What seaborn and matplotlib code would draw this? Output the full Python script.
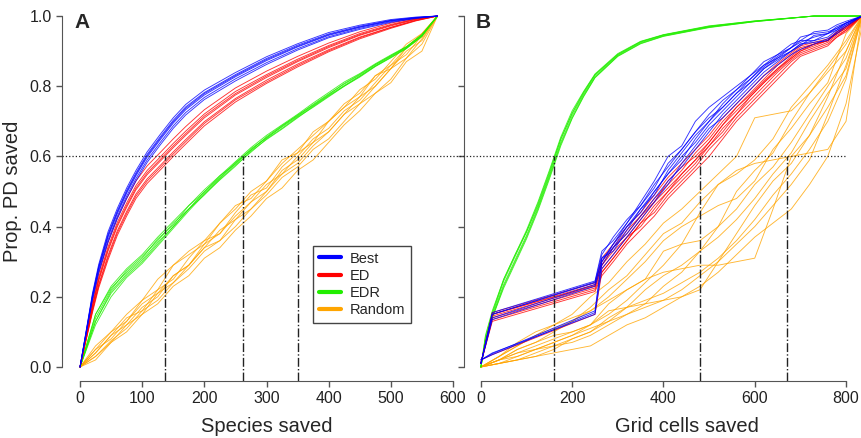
import numpy as np
import pandas as pd
import seaborn as sns
import matplotlib.pyplot as plt
from matplotlib.lines import Line2D

# ---------------- data ----------------
methods = ["Best", "ED", "EDR", "Random"]
colors = {"Best": "#0000ff", "ED": "#ff0000", "EDR": "#22ee00", "Random": "#ffa500"}

# panel A: species saved
a_x = [0, 10, 20, 30, 45, 60, 75, 90, 108, 130, 150, 170, 200, 250, 300, 350, 400, 450, 500, 540, 575]
a_best = [
    [0, 0.105, 0.21, 0.292, 0.385, 0.452, 0.51, 0.56, 0.613, 0.665, 0.71, 0.748, 0.789, 0.839, 0.884, 0.921, 0.953, 0.974, 0.99, 0.997, 1.0],
    [0, 0.102, 0.205, 0.286, 0.378, 0.445, 0.503, 0.553, 0.606, 0.658, 0.703, 0.741, 0.782, 0.833, 0.879, 0.917, 0.949, 0.971, 0.988, 0.996, 1.0],
    [0, 0.10, 0.20, 0.28, 0.37, 0.437, 0.495, 0.545, 0.598, 0.65, 0.695, 0.733, 0.775, 0.827, 0.873, 0.912, 0.945, 0.968, 0.986, 0.995, 1.0],
    [0, 0.098, 0.195, 0.274, 0.362, 0.429, 0.487, 0.537, 0.59, 0.642, 0.687, 0.725, 0.768, 0.821, 0.867, 0.907, 0.941, 0.965, 0.984, 0.994, 1.0],
    [0, 0.095, 0.191, 0.268, 0.355, 0.422, 0.48, 0.53, 0.583, 0.635, 0.68, 0.718, 0.762, 0.815, 0.862, 0.903, 0.938, 0.962, 0.982, 0.993, 1.0],
    [0, 0.101, 0.202, 0.283, 0.374, 0.441, 0.499, 0.549, 0.602, 0.654, 0.699, 0.737, 0.779, 0.83, 0.876, 0.914, 0.947, 0.969, 0.987, 0.995, 1.0],
]
a_ed = [
    [0, 0.093, 0.185, 0.265, 0.355, 0.425, 0.48, 0.53, 0.573, 0.613, 0.65, 0.685, 0.733, 0.795, 0.843, 0.885, 0.923, 0.955, 0.98, 0.994, 1.0],
    [0, 0.089, 0.177, 0.255, 0.342, 0.412, 0.467, 0.517, 0.56, 0.60, 0.637, 0.672, 0.721, 0.785, 0.833, 0.877, 0.916, 0.95, 0.976, 0.992, 1.0],
    [0, 0.085, 0.17, 0.245, 0.33, 0.40, 0.455, 0.505, 0.548, 0.588, 0.625, 0.66, 0.71, 0.775, 0.825, 0.87, 0.91, 0.945, 0.972, 0.99, 1.0],
    [0, 0.081, 0.163, 0.235, 0.318, 0.388, 0.443, 0.493, 0.536, 0.576, 0.613, 0.648, 0.699, 0.765, 0.817, 0.863, 0.904, 0.94, 0.968, 0.988, 1.0],
    [0, 0.078, 0.155, 0.225, 0.305, 0.375, 0.43, 0.48, 0.523, 0.563, 0.60, 0.635, 0.687, 0.755, 0.808, 0.855, 0.898, 0.935, 0.965, 0.986, 1.0],
    [0, 0.087, 0.173, 0.249, 0.335, 0.405, 0.46, 0.51, 0.553, 0.593, 0.63, 0.665, 0.715, 0.779, 0.829, 0.873, 0.913, 0.947, 0.974, 0.991, 1.0],
    [0, 0.08, 0.16, 0.231, 0.312, 0.382, 0.437, 0.487, 0.53, 0.57, 0.607, 0.642, 0.694, 0.761, 0.812, 0.859, 0.901, 0.938, 0.967, 0.987, 1.0],
]
a_x2 = [0, 25, 50, 75, 100, 125, 150, 175, 200, 225, 250, 275, 300, 325, 350, 375, 400, 425, 450, 475, 500, 525, 550, 575]
a_edr = [
    [0, 0.15, 0.23, 0.28, 0.32, 0.37, 0.415, 0.46, 0.505, 0.545, 0.585, 0.625, 0.66, 0.69, 0.72, 0.752, 0.782, 0.812, 0.836, 0.864, 0.889, 0.913, 0.947, 1.0],
    [0, 0.13, 0.21, 0.26, 0.30, 0.35, 0.40, 0.45, 0.49, 0.535, 0.575, 0.612, 0.65, 0.68, 0.712, 0.74, 0.77, 0.80, 0.828, 0.857, 0.882, 0.908, 0.943, 1.0],
    [0, 0.14, 0.22, 0.275, 0.315, 0.36, 0.41, 0.45, 0.50, 0.54, 0.583, 0.618, 0.656, 0.688, 0.716, 0.748, 0.778, 0.806, 0.832, 0.861, 0.886, 0.911, 0.946, 1.0],
    [0, 0.12, 0.20, 0.255, 0.295, 0.345, 0.395, 0.445, 0.492, 0.533, 0.572, 0.615, 0.648, 0.678, 0.71, 0.742, 0.772, 0.80, 0.826, 0.856, 0.881, 0.907, 0.942, 1.0],
    [0, 0.15, 0.225, 0.27, 0.31, 0.365, 0.405, 0.46, 0.498, 0.545, 0.578, 0.622, 0.652, 0.686, 0.718, 0.746, 0.776, 0.808, 0.834, 0.862, 0.887, 0.912, 0.946, 1.0],
    [0, 0.13, 0.215, 0.265, 0.305, 0.355, 0.40, 0.45, 0.495, 0.538, 0.58, 0.618, 0.654, 0.684, 0.714, 0.744, 0.774, 0.802, 0.829, 0.858, 0.884, 0.909, 0.944, 1.0],
]
a_random = [
    [0, 0.03, 0.07, 0.12, 0.15, 0.21, 0.24, 0.29, 0.34, 0.36, 0.42, 0.45, 0.50, 0.55, 0.58, 0.63, 0.67, 0.72, 0.75, 0.80, 0.85, 0.88, 0.935, 1.0],
    [0, 0.05, 0.10, 0.13, 0.19, 0.22, 0.29, 0.32, 0.35, 0.41, 0.46, 0.48, 0.53, 0.59, 0.61, 0.67, 0.70, 0.74, 0.79, 0.82, 0.87, 0.92, 0.95, 1.0],
    [0, 0.04, 0.09, 0.14, 0.16, 0.22, 0.25, 0.31, 0.36, 0.38, 0.44, 0.49, 0.51, 0.57, 0.61, 0.64, 0.70, 0.74, 0.77, 0.83, 0.85, 0.91, 0.94, 1.0],
    [0, 0.03, 0.075, 0.11, 0.16, 0.19, 0.24, 0.28, 0.33, 0.36, 0.40, 0.45, 0.49, 0.54, 0.57, 0.62, 0.65, 0.70, 0.75, 0.78, 0.82, 0.88, 0.92, 1.0],
    [0, 0.05, 0.08, 0.13, 0.18, 0.21, 0.26, 0.29, 0.35, 0.38, 0.43, 0.47, 0.52, 0.55, 0.60, 0.65, 0.68, 0.73, 0.76, 0.81, 0.86, 0.89, 0.945, 1.0],
    [0, 0.06, 0.10, 0.15, 0.19, 0.25, 0.29, 0.33, 0.36, 0.41, 0.45, 0.50, 0.53, 0.58, 0.62, 0.66, 0.70, 0.75, 0.78, 0.83, 0.86, 0.91, 0.95, 1.0],
    [0, 0.02, 0.07, 0.10, 0.15, 0.18, 0.23, 0.26, 0.31, 0.34, 0.39, 0.43, 0.48, 0.51, 0.56, 0.59, 0.64, 0.69, 0.73, 0.78, 0.81, 0.87, 0.90, 1.0],
    [0, 0.04, 0.09, 0.12, 0.17, 0.20, 0.26, 0.29, 0.34, 0.39, 0.42, 0.47, 0.50, 0.56, 0.59, 0.64, 0.67, 0.72, 0.77, 0.80, 0.85, 0.90, 0.93, 1.0],
]

# panel B: grid cells saved
b_x = [0, 25, 250, 265, 290, 320, 350, 380, 410, 440, 470, 500, 530, 560, 590, 620, 650, 680, 700, 730, 760, 780, 800, 835]
b_best = [
    [0.01, 0.155, 0.245, 0.33, 0.36, 0.41, 0.47, 0.53, 0.60, 0.63, 0.70, 0.74, 0.77, 0.80, 0.83, 0.87, 0.89, 0.91, 0.93, 0.955, 0.96, 0.975, 0.985, 1.0],
    [0.01, 0.15, 0.24, 0.30, 0.35, 0.40, 0.44, 0.50, 0.55, 0.60, 0.64, 0.69, 0.73, 0.77, 0.81, 0.85, 0.88, 0.90, 0.92, 0.93, 0.94, 0.96, 0.975, 1.0],
    [0.01, 0.14, 0.235, 0.31, 0.33, 0.39, 0.45, 0.49, 0.56, 0.61, 0.66, 0.70, 0.75, 0.79, 0.82, 0.86, 0.89, 0.92, 0.93, 0.93, 0.95, 0.97, 0.98, 1.0],
    [0.01, 0.135, 0.23, 0.29, 0.34, 0.38, 0.43, 0.48, 0.53, 0.57, 0.62, 0.67, 0.72, 0.76, 0.80, 0.84, 0.87, 0.90, 0.92, 0.925, 0.93, 0.955, 0.975, 1.0],
    [0.02, 0.035, 0.155, 0.30, 0.35, 0.41, 0.46, 0.52, 0.57, 0.62, 0.67, 0.72, 0.76, 0.79, 0.83, 0.86, 0.88, 0.91, 0.94, 0.95, 0.955, 0.965, 0.98, 1.0],
    [0.02, 0.04, 0.15, 0.28, 0.32, 0.37, 0.42, 0.47, 0.52, 0.58, 0.63, 0.68, 0.71, 0.75, 0.79, 0.83, 0.86, 0.89, 0.905, 0.92, 0.935, 0.95, 0.97, 1.0],
    [0.01, 0.15, 0.242, 0.32, 0.37, 0.42, 0.46, 0.51, 0.58, 0.62, 0.67, 0.71, 0.74, 0.78, 0.82, 0.855, 0.885, 0.91, 0.925, 0.94, 0.95, 0.96, 0.98, 1.0],
    [0.02, 0.038, 0.16, 0.31, 0.34, 0.40, 0.45, 0.50, 0.55, 0.59, 0.65, 0.70, 0.74, 0.78, 0.81, 0.85, 0.875, 0.90, 0.915, 0.945, 0.95, 0.965, 0.98, 1.0],
]
b_ed = [
    [0.01, 0.15, 0.235, 0.30, 0.34, 0.38, 0.43, 0.48, 0.52, 0.56, 0.61, 0.65, 0.70, 0.74, 0.78, 0.82, 0.86, 0.89, 0.91, 0.92, 0.93, 0.955, 0.97, 1.0],
    [0.01, 0.145, 0.23, 0.29, 0.33, 0.37, 0.42, 0.47, 0.51, 0.55, 0.59, 0.64, 0.69, 0.73, 0.77, 0.81, 0.85, 0.88, 0.90, 0.915, 0.93, 0.95, 0.965, 1.0],
    [0.01, 0.14, 0.225, 0.28, 0.32, 0.37, 0.40, 0.45, 0.50, 0.54, 0.58, 0.63, 0.67, 0.72, 0.76, 0.80, 0.84, 0.875, 0.895, 0.91, 0.925, 0.945, 0.96, 1.0],
    [0.01, 0.135, 0.22, 0.27, 0.31, 0.36, 0.41, 0.44, 0.49, 0.53, 0.57, 0.62, 0.66, 0.71, 0.75, 0.79, 0.83, 0.87, 0.89, 0.905, 0.92, 0.94, 0.96, 1.0],
    [0.01, 0.155, 0.24, 0.31, 0.35, 0.40, 0.44, 0.49, 0.54, 0.58, 0.62, 0.66, 0.71, 0.75, 0.79, 0.83, 0.865, 0.895, 0.915, 0.925, 0.935, 0.955, 0.97, 1.0],
    [0.02, 0.035, 0.15, 0.27, 0.31, 0.36, 0.41, 0.46, 0.50, 0.55, 0.59, 0.63, 0.68, 0.72, 0.77, 0.81, 0.845, 0.88, 0.90, 0.92, 0.93, 0.95, 0.965, 1.0],
    [0.01, 0.13, 0.215, 0.26, 0.30, 0.35, 0.39, 0.43, 0.48, 0.52, 0.56, 0.60, 0.65, 0.70, 0.74, 0.78, 0.82, 0.86, 0.885, 0.90, 0.915, 0.94, 0.955, 1.0],
    [0.01, 0.15, 0.232, 0.29, 0.34, 0.39, 0.43, 0.47, 0.53, 0.57, 0.60, 0.64, 0.69, 0.74, 0.775, 0.815, 0.85, 0.885, 0.905, 0.92, 0.93, 0.95, 0.97, 1.0],
]
b_xg = [0, 10, 25, 50, 75, 100, 125, 150, 175, 200, 225, 250, 300, 350, 400, 500, 600, 730, 835]
b_edr = [
    [0, 0.09, 0.16, 0.25, 0.32, 0.39, 0.47, 0.56, 0.655, 0.73, 0.785, 0.835, 0.893, 0.928, 0.947, 0.972, 0.986, 1.0, 1.0],
    [0, 0.07, 0.14, 0.23, 0.30, 0.37, 0.45, 0.54, 0.635, 0.71, 0.772, 0.825, 0.886, 0.922, 0.943, 0.968, 0.984, 1.0, 1.0],
    [0, 0.08, 0.15, 0.245, 0.315, 0.385, 0.465, 0.555, 0.65, 0.722, 0.78, 0.832, 0.89, 0.926, 0.946, 0.97, 0.985, 1.0, 1.0],
    [0, 0.075, 0.145, 0.235, 0.305, 0.375, 0.455, 0.545, 0.64, 0.716, 0.776, 0.828, 0.888, 0.924, 0.944, 0.969, 0.985, 1.0, 1.0],
    [0, 0.085, 0.155, 0.25, 0.32, 0.385, 0.46, 0.55, 0.648, 0.724, 0.783, 0.833, 0.891, 0.927, 0.946, 0.971, 0.986, 1.0, 1.0],
    [0, 0.07, 0.14, 0.225, 0.295, 0.365, 0.445, 0.535, 0.63, 0.708, 0.77, 0.824, 0.885, 0.921, 0.942, 0.967, 0.984, 1.0, 1.0],
]
b_xr = [0, 40, 80, 120, 160, 200, 240, 280, 320, 360, 400, 440, 480, 520, 560, 600, 640, 680, 720, 760, 800, 835]
b_random = [
    [0, 0.03, 0.06, 0.09, 0.12, 0.15, 0.20, 0.24, 0.30, 0.35, 0.41, 0.45, 0.50, 0.55, 0.60, 0.71, 0.72, 0.73, 0.78, 0.85, 0.92, 1.0],
    [0, 0.02, 0.05, 0.07, 0.10, 0.13, 0.17, 0.22, 0.26, 0.32, 0.38, 0.41, 0.47, 0.52, 0.55, 0.59, 0.65, 0.74, 0.80, 0.86, 0.93, 1.0],
    [0, 0.01, 0.02, 0.03, 0.05, 0.08, 0.10, 0.13, 0.17, 0.22, 0.26, 0.29, 0.33, 0.40, 0.50, 0.56, 0.61, 0.70, 0.78, 0.84, 0.90, 1.0],
    [0, 0.02, 0.05, 0.07, 0.09, 0.10, 0.12, 0.18, 0.22, 0.25, 0.33, 0.35, 0.36, 0.40, 0.45, 0.52, 0.57, 0.64, 0.72, 0.80, 0.88, 1.0],
    [0, 0.02, 0.03, 0.05, 0.06, 0.07, 0.09, 0.12, 0.15, 0.18, 0.23, 0.27, 0.33, 0.37, 0.42, 0.48, 0.55, 0.61, 0.70, 0.78, 0.85, 1.0],
    [0, 0.03, 0.06, 0.09, 0.11, 0.13, 0.16, 0.19, 0.22, 0.25, 0.27, 0.28, 0.29, 0.29, 0.30, 0.31, 0.45, 0.60, 0.66, 0.74, 0.83, 1.0],
    [0, 0.01, 0.02, 0.04, 0.06, 0.08, 0.10, 0.14, 0.17, 0.19, 0.21, 0.24, 0.27, 0.31, 0.36, 0.42, 0.49, 0.55, 0.62, 0.70, 0.82, 1.0],
    [0, 0.02, 0.04, 0.05, 0.07, 0.09, 0.11, 0.13, 0.15, 0.17, 0.19, 0.22, 0.26, 0.30, 0.35, 0.40, 0.46, 0.52, 0.59, 0.72, 0.86, 1.0],
    [0, 0.01, 0.03, 0.05, 0.07, 0.09, 0.12, 0.15, 0.19, 0.24, 0.29, 0.35, 0.44, 0.52, 0.56, 0.58, 0.59, 0.60, 0.61, 0.62, 0.70, 1.0],
    [0, 0.01, 0.02, 0.03, 0.04, 0.05, 0.06, 0.09, 0.12, 0.14, 0.17, 0.20, 0.23, 0.27, 0.32, 0.37, 0.41, 0.45, 0.52, 0.60, 0.75, 0.97],
    [0, 0.02, 0.04, 0.06, 0.08, 0.10, 0.12, 0.16, 0.17, 0.18, 0.19, 0.20, 0.22, 0.30, 0.38, 0.46, 0.53, 0.58, 0.66, 0.77, 0.90, 1.0],
    [0, 0.03, 0.07, 0.10, 0.12, 0.14, 0.16, 0.20, 0.25, 0.30, 0.36, 0.40, 0.43, 0.46, 0.48, 0.53, 0.62, 0.68, 0.75, 0.81, 0.95, 1.0],
]

# x where each method reaches 0.6
a_cross = [136, 262, 350]
b_cross = [160, 480, 670]


def to_long(x, reps, method):
    rows = []
    for i, ys in enumerate(reps):
        for xv, yv in zip(x, ys):
            rows.append({"x": xv, "y": yv, "method": method, "rep": f"{method}_{i}"})
    return rows


df_a = pd.DataFrame(to_long(a_x, a_best, "Best") + to_long(a_x, a_ed, "ED")
                    + to_long(a_x2, a_edr, "EDR") + to_long(a_x2, a_random, "Random"))
df_b = pd.DataFrame(to_long(b_x, b_best, "Best") + to_long(b_x, b_ed, "ED")
                    + to_long(b_xg, b_edr, "EDR") + to_long(b_xr, b_random, "Random"))

# ---------------- style ----------------
sns.set_style("ticks")
plt.rcParams["font.family"] = ["Liberation Sans", "DejaVu Sans"]
plt.rcParams["axes.edgecolor"] = "#555555"
plt.rcParams["xtick.color"] = "#555555"
plt.rcParams["ytick.color"] = "#555555"
plt.rcParams["xtick.labelcolor"] = "#222222"
plt.rcParams["ytick.labelcolor"] = "#222222"

fig = plt.figure(figsize=(8.62, 4.38), dpi=100)
ax1 = fig.add_axes([62 / 862, 1 - 381 / 438, 391 / 862, 379 / 438])
ax2 = fig.add_axes([464 / 862, 1 - 381 / 438, 398 / 862, 379 / 438])

# draw order: random, EDR, ED, Best
order = ["Random", "EDR", "ED", "Best"]
for ax, df in [(ax1, df_a), (ax2, df_b)]:
    for m in order:
        sub = df[df["method"] == m]
        sns.lineplot(data=sub, x="x", y="y", units="rep", estimator=None,
                     color=colors[m], lw=0.65, alpha=0.8, sort=False,
                     legend=False, ax=ax)

ax1.set_xlim(-29, 600)
ax2.set_xlim(-37, 835)
for ax in (ax1, ax2):
    ax.set_ylim(-0.04, 1.04)
    ax.set_yticks(np.arange(0, 1.01, 0.2))
    ax.spines["top"].set_visible(False)
    ax.spines["right"].set_visible(False)
    ax.spines["left"].set_bounds(0, 1)
    ax.tick_params(length=4.5, width=1, labelsize=11.5, pad=3)

ax1.set_xticks(np.arange(0, 601, 100))
ax1.spines["bottom"].set_bounds(0, 600)
ax1.set_yticklabels(["0.0", "0.2", "0.4", "0.6", "0.8", "1.0"])
ax2.set_xticks(np.arange(0, 801, 200))
ax2.spines["bottom"].set_bounds(0, 800)
ax2.set_yticklabels([])

ax1.set_xlabel("Species saved", fontsize=14.5)
ax1.xaxis.set_label_coords(0.524, -0.095)
ax1.set_ylabel("Prop. PD saved", fontsize=14.5, labelpad=5)
ax2.set_xlabel("Grid cells saved", fontsize=14.5)
ax2.xaxis.set_label_coords(0.56, -0.095)
ax2.set_ylabel("")

# vertical dash-dot markers
for ax, xs in [(ax1, a_cross), (ax2, b_cross)]:
    for xv in xs:
        ax.plot([xv, xv], [-0.04, 0.6], color="#222222", lw=1, ls="-.", clip_on=False)

# horizontal dotted line at 0.6 across both panels
inv = fig.transFigure.inverted()
p_start = inv.transform(ax1.transData.transform((-29, 0.6)))
p_end = inv.transform(ax2.transData.transform((800, 0.6)))
fig.add_artist(Line2D([p_start[0], p_end[0]], [p_start[1], p_end[1]],
                      transform=fig.transFigure, color="#222222", lw=0.9, ls=":"))

ax1.text(0.031, 0.972, "A", transform=ax1.transAxes, fontsize=15, fontweight="bold",
         va="top", ha="left")
ax2.text(0.028, 0.972, "B", transform=ax2.transAxes, fontsize=15, fontweight="bold",
         va="top", ha="left")

handles = [Line2D([0], [0], color=colors[m], lw=3) for m in methods]
leg = ax1.legend(handles, methods, loc="upper left", bbox_to_anchor=(0.643, 0.357),
                 borderaxespad=0, fontsize=10.5, handlelength=1.5, handletextpad=0.6,
                 labelspacing=0.22, borderpad=0.4, fancybox=False, framealpha=1)
leg.get_frame().set_edgecolor("#444444")
leg.get_frame().set_linewidth(1)

fig.savefig("out.png", dpi=100)
